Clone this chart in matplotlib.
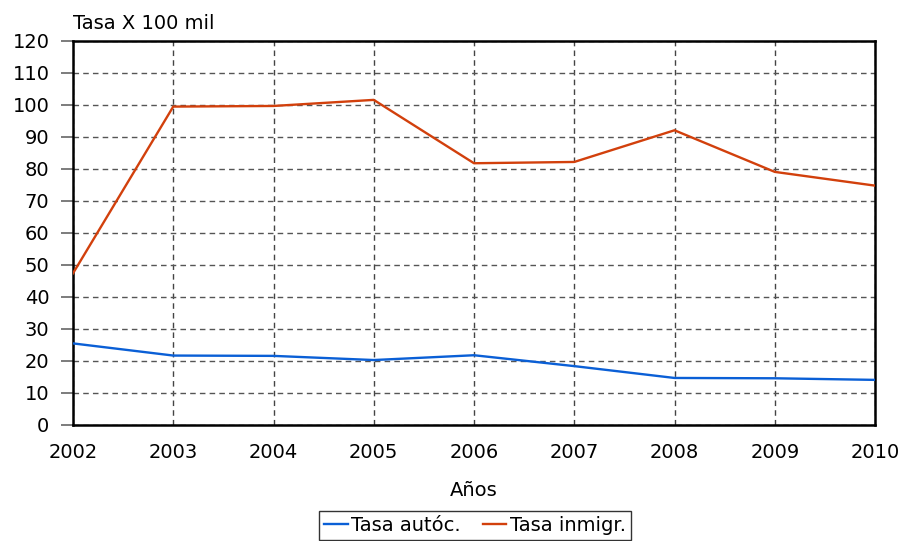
import matplotlib
matplotlib.use("Agg")
import matplotlib.pyplot as plt

years = [2002, 2003, 2004, 2005, 2006, 2007, 2008, 2009, 2010]
tasa_autoc = [25.5, 21.7, 21.6, 20.3, 21.8, 18.4, 14.7, 14.6, 14.1]
tasa_inmigr = [47.4, 99.5, 99.7, 101.6, 81.8, 82.2, 92.1, 79.1, 74.8]
y_ticks = list(range(0, 121, 10))

plt.rcParams['font.family'] = ['DejaVu Sans']

fig = plt.figure(figsize=(9.03, 5.41), dpi=100)
ax = fig.add_axes([73/903, 1 - 425/541, (875-73)/903, (425-41)/541])

ax.plot(years, tasa_autoc, color='#0a5fd6', lw=1.7, label='Tasa autóc.', zorder=3)
ax.plot(years, tasa_inmigr, color='#d2400c', lw=1.7, label='Tasa inmigr.', zorder=3)

FS = 14
ax.set_xlim(2002, 2010)
ax.set_ylim(0, 120)
ax.set_xticks(years)
ax.set_yticks(y_ticks)
ax.tick_params(axis='y', labelsize=FS, length=9, width=1.2, color='#666666', pad=8)
ax.tick_params(axis='x', labelsize=FS, length=0, pad=13)
ax.grid(axis='y', linestyle=(0, (4, 3)), color='#555555', lw=1)
ax.grid(axis='x', linestyle=(0, (4, 3)), color='#444444', lw=1)
for s in ax.spines.values():
    s.set_linewidth(1.8)
    s.set_color('black')

ax.set_xlabel('Años', fontsize=FS, labelpad=14)
ax.text(0, 1.022, 'Tasa X 100 mil', transform=ax.transAxes, fontsize=FS, ha='left', va='bottom')

leg = fig.legend(*ax.get_legend_handles_labels(), loc='upper center',
                 bbox_to_anchor=(475/903, 1 - 511/541), bbox_transform=fig.transFigure,
                 ncol=2, fontsize=FS, frameon=True, fancybox=False,
                 handlelength=1.2, handletextpad=0.2, columnspacing=1.1,
                 borderpad=0.25, borderaxespad=0)
leg.get_frame().set_edgecolor('black')
leg.get_frame().set_linewidth(1.0)

fig.savefig('out.png', dpi=100)
